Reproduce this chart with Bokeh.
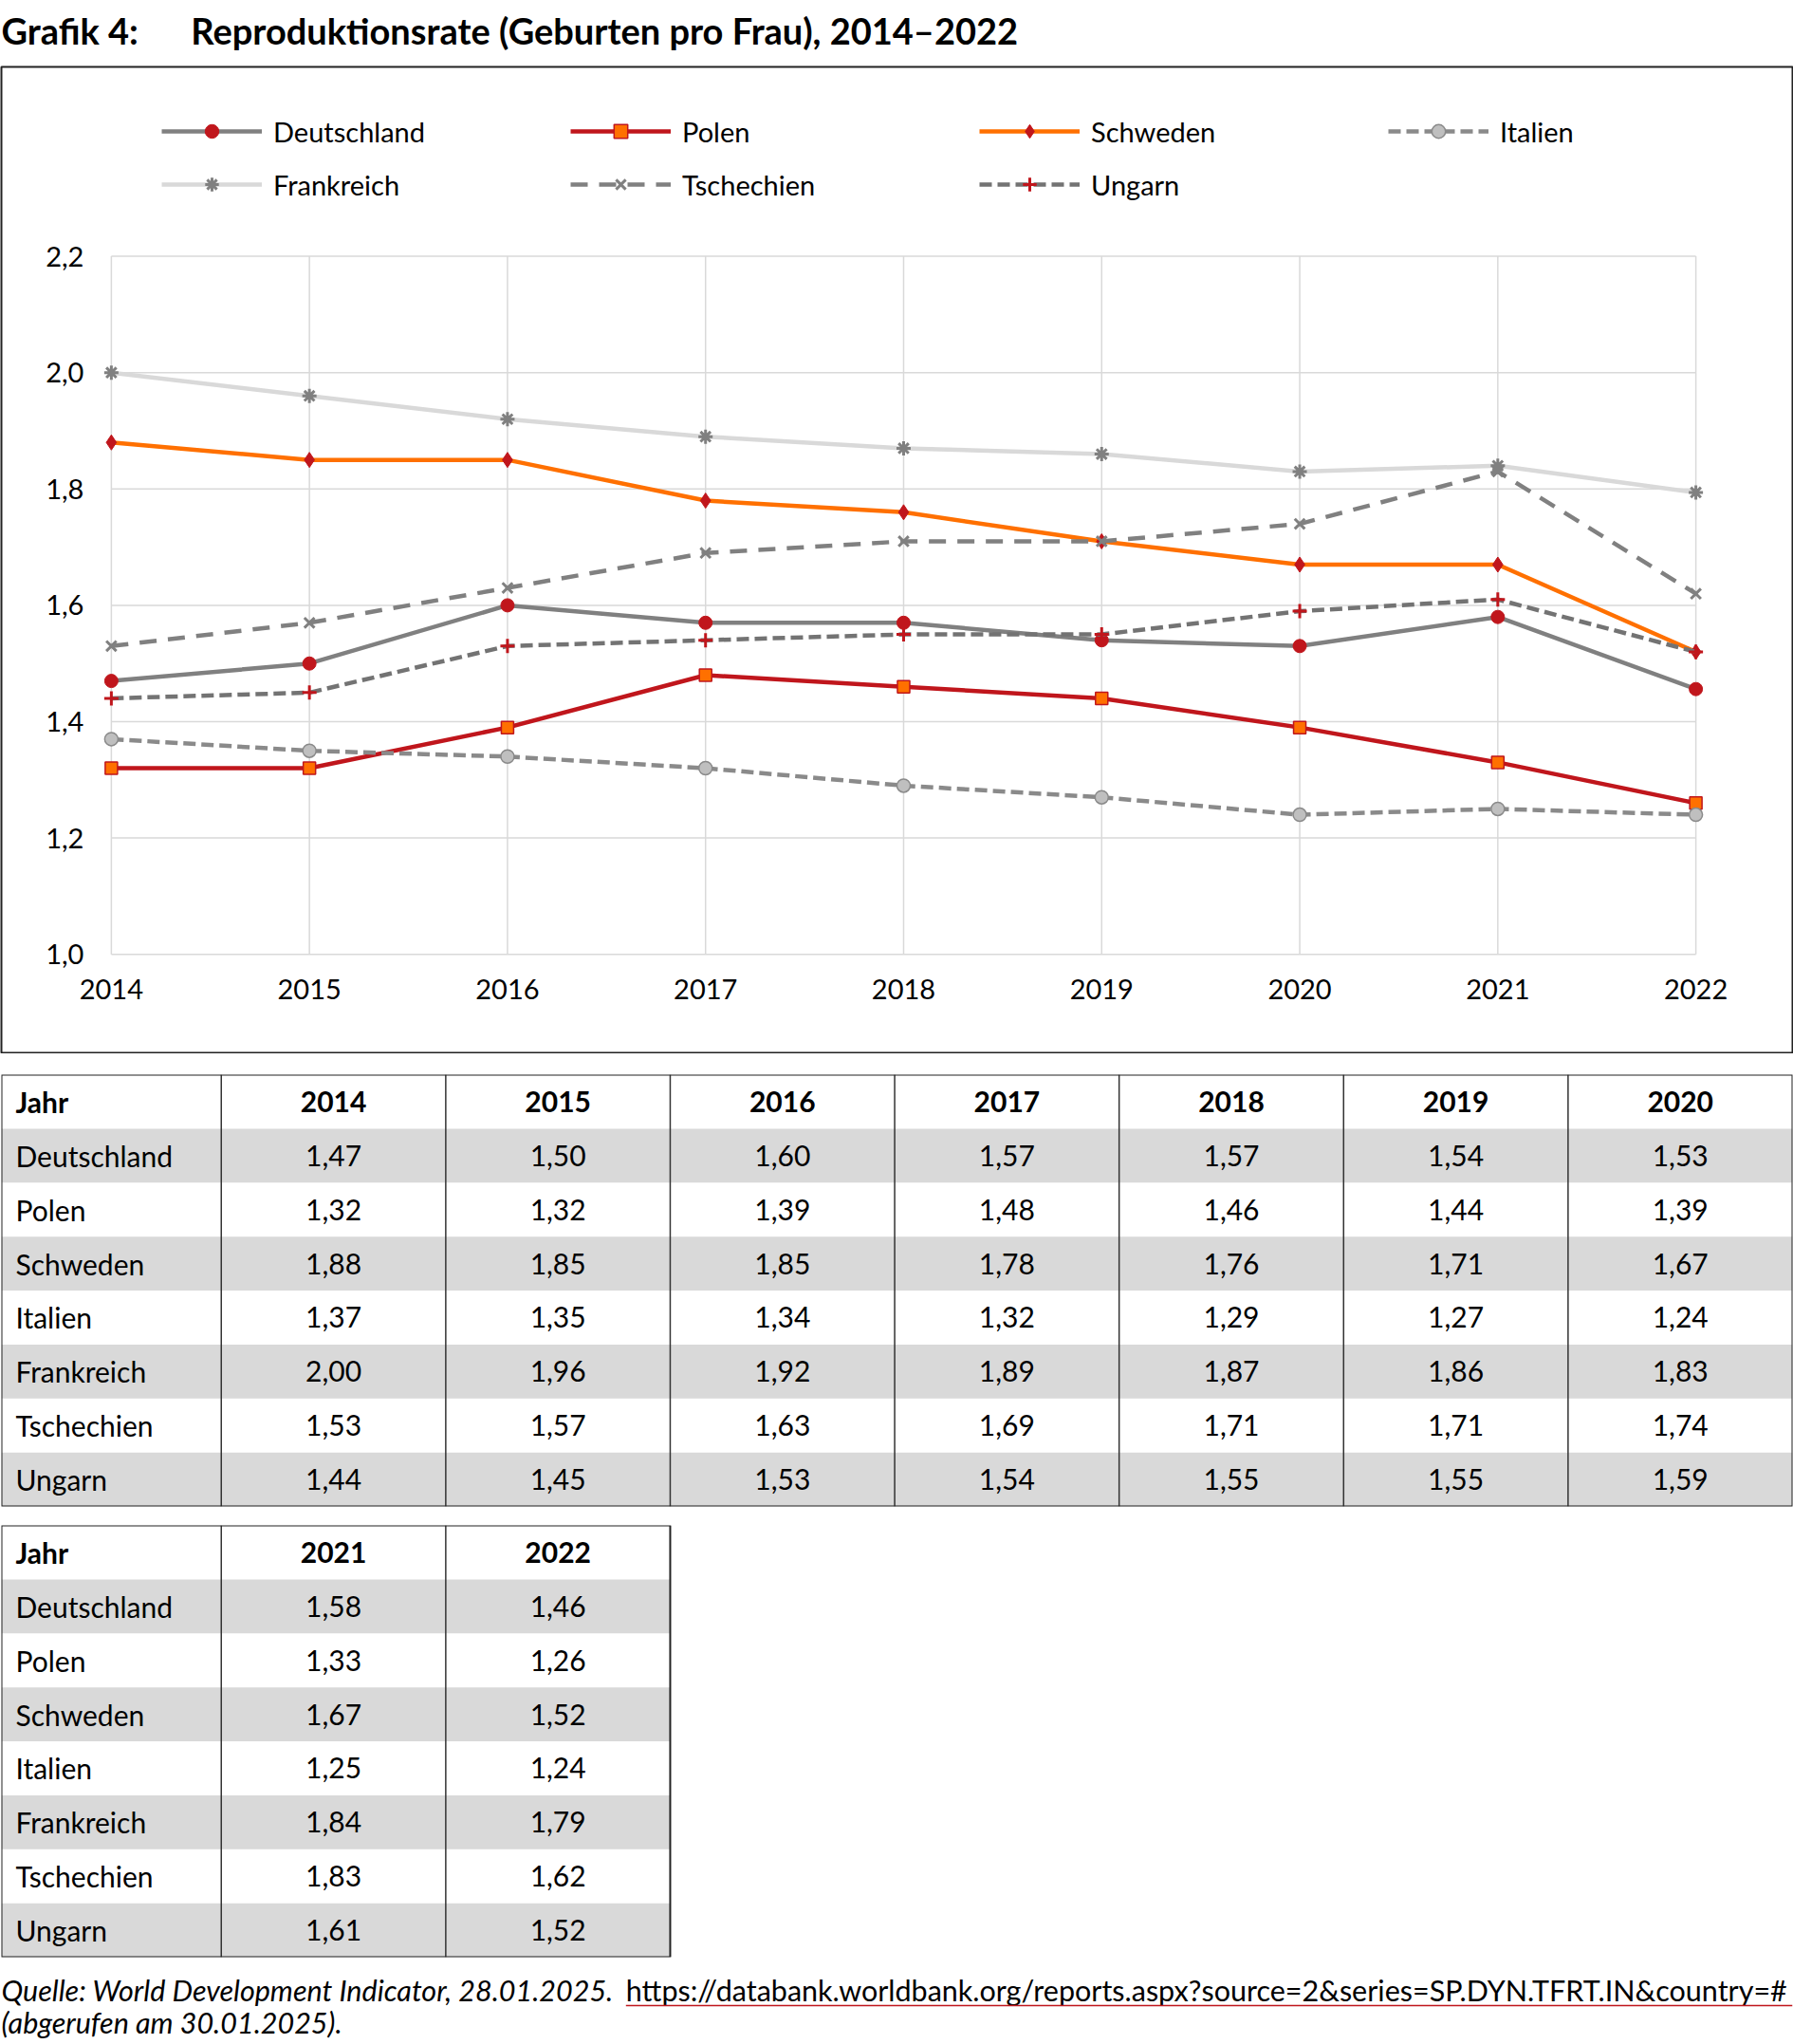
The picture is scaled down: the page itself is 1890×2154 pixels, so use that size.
from bokeh.plotting import figure
from bokeh.models import (Range1d, LinearAxis, FixedTicker, CustomJSTickFormatter,
                          Legend, LegendItem, ColumnDataSource)
from bokeh.layouts import column
from bokeh.core.properties import value
from bokeh.embed import file_html
from bokeh.resources import INLINE

# ---------------- data ----------------
YEARS = [2014, 2015, 2016, 2017, 2018, 2019, 2020, 2021, 2022]
COUNTRIES = ["Deutschland", "Polen", "Schweden", "Italien", "Frankreich", "Tschechien", "Ungarn"]
DEUTSCHLAND = [1.47, 1.50, 1.60, 1.57, 1.57, 1.54, 1.53, 1.58, 1.456]
POLEN = [1.32, 1.32, 1.39, 1.48, 1.46, 1.44, 1.39, 1.33, 1.26]
SCHWEDEN = [1.88, 1.85, 1.85, 1.78, 1.76, 1.71, 1.67, 1.67, 1.52]
ITALIEN = [1.37, 1.35, 1.34, 1.32, 1.29, 1.27, 1.24, 1.25, 1.24]
FRANKREICH = [2.00, 1.96, 1.92, 1.89, 1.87, 1.86, 1.83, 1.84, 1.794]
TSCHECHIEN = [1.53, 1.57, 1.63, 1.69, 1.71, 1.71, 1.74, 1.83, 1.62]
UNGARN = [1.44, 1.45, 1.53, 1.54, 1.55, 1.55, 1.59, 1.61, 1.52]
SERIES = [DEUTSCHLAND, POLEN, SCHWEDEN, ITALIEN, FRANKREICH, TSCHECHIEN, UNGARN]
Y_TICKS = [1.0, 1.2, 1.4, 1.6, 1.8, 2.0, 2.2]
TABLE1_YEARS = YEARS[:7]
TABLE2_YEARS = YEARS[7:]
TABLE_HEADER = "Jahr"
TITLE_NUM = "Grafik 4:"
TITLE_TEXT = "Reproduktionsrate (Geburten pro Frau), 2014–2022"
SOURCE_TEXT = "Quelle: World Development Indicator, 28.01.2025."
SOURCE_URL = "https://databank.worldbank.org/reports.aspx?source=2&series=SP.DYN.TFRT.IN&country=#"
SOURCE_DATE = "(abgerufen am 30.01.2025)."

# ---------------- styles ----------------
FONT = value("Lato")
REF_W = 1890
W = 1890
AVAIL_H = 2154

RED = "#C0161C"
ORANGE = "#FF7000"
GREY = "#808080"
LIGHT = "#D9D9D9"
BORDER = "#222222"
STYLES = {
    "Deutschland": dict(color=GREY, dash="solid",
                        markers=[dict(marker="circle", size=14, fill_color=RED, line_color=RED, line_width=1)]),
    "Polen": dict(color=RED, dash="solid",
                  markers=[dict(marker="square", size=13, fill_color=ORANGE, line_color=RED, line_width=1.5)]),
    "Schweden": dict(color=ORANGE, dash="solid",
                     markers=[dict(marker="diamond", size=16, fill_color=RED, line_color=RED, line_width=1)]),
    "Italien": dict(color="#8A8A8A", dash="13 6",
                    markers=[dict(marker="circle", size=14, fill_color="#BFBFBF", line_color="#8A8A8A", line_width=1.5)]),
    "Frankreich": dict(color=LIGHT, dash="solid",
                       markers=[dict(marker="asterisk", size=15, line_color=GREY, line_width=3)]),
    "Tschechien": dict(color=GREY, dash="18 12",
                       markers=[dict(marker="x", size=15, line_color=GREY, line_width=3)]),
    "Ungarn": dict(color="#737373", dash="13 6",
                   markers=[dict(marker="cross", size=15, line_color=RED, line_width=3)]),
}


def canvas_fig(height, y_end, x_range=None, y_range=None, top=0, bottom=0):
    p = figure(width=W, height=height,
               x_range=x_range or Range1d(0, REF_W), y_range=y_range or Range1d(y_end, 0),
               x_axis_type=None, y_axis_type=None, toolbar_location=None, output_backend="svg",
               min_border_left=1, min_border_right=1, min_border_top=top, min_border_bottom=bottom,
               title=None)
    p.outline_line_color = None
    p.background_fill_color = "white"
    p.border_fill_color = "white"
    return p

# ---------------- title ----------------
TITLE_H = 69
tf = canvas_fig(TITLE_H, TITLE_H)
tf.text(x=[0, 200], y=[31, 31], text=[TITLE_NUM, TITLE_TEXT], text_font=FONT, text_font_style="bold",
        text_font_size="38px", text_baseline="middle", text_align="left", text_color="black")

# ---------------- chart ----------------
BOX_H = 1041
X0_PX, X1_PX = 116, 1788
Y_TOP_PX, Y_BOT_PX = 200, 937
ppx = (X1_PX - X0_PX) / (YEARS[-1] - YEARS[0])
ppy = (Y_BOT_PX - Y_TOP_PX) / (Y_TICKS[-1] - Y_TICKS[0])
chart = canvas_fig(BOX_H, None,
                   x_range=Range1d(YEARS[0] - X0_PX / ppx, YEARS[-1] + (REF_W - X1_PX) / ppx),
                   y_range=Range1d(Y_TICKS[0] - (BOX_H - Y_BOT_PX) / ppy, Y_TICKS[-1] + Y_TOP_PX / ppy),
                   top=1, bottom=1)
chart.outline_line_color = BORDER
chart.outline_line_width = 2

# grid
chart.segment(x0=YEARS, y0=[Y_TICKS[0]] * len(YEARS), x1=YEARS, y1=[Y_TICKS[-1]] * len(YEARS),
              line_color=LIGHT, line_width=1.5)
chart.segment(x0=[YEARS[0]] * len(Y_TICKS), y0=Y_TICKS, x1=[YEARS[-1]] * len(Y_TICKS), y1=Y_TICKS,
              line_color=LIGHT, line_width=1.5)

yax = LinearAxis(fixed_location=YEARS[0], ticker=FixedTicker(ticks=Y_TICKS),
                 formatter=CustomJSTickFormatter(code="return tick.toFixed(1).replace('.', ',');"))
xax = LinearAxis(fixed_location=Y_TICKS[0], ticker=FixedTicker(ticks=YEARS),
                 formatter=CustomJSTickFormatter(code="return tick.toFixed(0);"))
for ax in (yax, xax):
    ax.axis_line_color = None
    ax.major_tick_line_color = None
    ax.minor_tick_line_color = None
    ax.major_label_text_font = "Lato"
    ax.major_label_text_font_size = "29px"
    ax.major_label_text_color = "black"
yax.major_label_standoff = 23
xax.major_label_standoff = 20
chart.add_layout(yax, "left")
chart.add_layout(xax, "below")

items = []
for name, vals in zip(COUNTRIES, SERIES):
    st = STYLES[name]
    src = ColumnDataSource(dict(x=YEARS, y=vals))
    rs = [chart.line("x", "y", source=src, line_color=st["color"], line_width=4.5, line_dash=st["dash"])]
    for m in st["markers"]:
        rs.append(chart.scatter("x", "y", source=src, **m))
    items.append(LegendItem(label=name, renderers=rs))

frame_h = BOX_H - 2
GLYPH_H = 36
LEG_SP = 56 - GLYPH_H
leg_h = GLYPH_H + LEG_SP + GLYPH_H
legend = Legend(items=items, orientation="horizontal", ncols=4,
                location=(169, frame_h - (68 - GLYPH_H // 2) - leg_h),
                glyph_width=106, glyph_height=GLYPH_H, label_height=GLYPH_H,
                label_width=431 - 106 - 12 - LEG_SP,
                label_standoff=12, spacing=LEG_SP, padding=0, margin=0,
                border_line_color=None, background_fill_alpha=0,
                label_text_font="Lato", label_text_font_size="29px", label_text_color="black",
                label_text_baseline="middle")
chart.add_layout(legend)

# ---------------- tables ----------------
ROW_H = 56.9
FIRST_W = 232
COL_W = (REF_W - FIRST_W) / 7
TFONT = "30px"
TEXT_X = 15


def fmt(v):
    return f"{v:.2f}".replace(".", ",")


def make_table(years, gap):
    nrows = len(COUNTRIES) + 1
    edges = [0, FIRST_W] + [FIRST_W + COL_W * (k + 1) for k in range(len(years))]
    fw = edges[-1]
    fh = round(ROW_H * nrows)
    height = gap + fh + 1
    p = canvas_fig(height, None, y_range=Range1d(nrows, 0), top=gap, bottom=1)
    shaded = [i + 1 for i in range(len(COUNTRIES)) if i % 2 == 0]
    p.quad(left=[0] * len(shaded), right=[fw] * len(shaded), top=shaded, bottom=[r + 1 for r in shaded],
           fill_color=LIGHT, line_color=None)
    inner = edges[1:-1]
    p.segment(x0=inner, y0=[0] * len(inner), x1=inner, y1=[nrows] * len(inner), line_color="#333333", line_width=1.5)
    p.quad(left=[0], right=[fw], top=[0], bottom=[nrows], fill_color=None, line_color=BORDER, line_width=2)
    # header
    p.text(x=[TEXT_X], y=[0.5], text=[TABLE_HEADER], text_font=FONT, text_font_style="bold", text_font_size=TFONT,
           text_baseline="middle", text_align="left", text_color="black")
    centers = [(edges[k + 1] + edges[k + 2]) / 2 for k in range(len(years))]
    p.text(x=centers, y=[0.5] * len(years), text=[str(y) for y in years], text_font=FONT, text_font_style="bold",
           text_font_size=TFONT, text_baseline="middle", text_align="center", text_color="black")
    # rows
    p.text(x=[TEXT_X] * len(COUNTRIES), y=[i + 1.5 for i in range(len(COUNTRIES))], text=COUNTRIES, text_font=FONT,
           text_font_size=TFONT, text_baseline="middle", text_align="left", text_color="black")
    xs, ys, ts = [], [], []
    for i, vals in enumerate(SERIES):
        for k, yr in enumerate(years):
            xs.append(centers[k])
            ys.append(i + 1.5)
            ts.append(fmt(vals[YEARS.index(yr)]))
    p.text(x=xs, y=ys, text=ts, text_font=FONT, text_font_size=TFONT, text_baseline="middle",
           text_align="center", text_color="black")
    return p, height


t1, h1 = make_table(TABLE1_YEARS, 22)
t2, h2 = make_table(TABLE2_YEARS, 19)

# ---------------- footer ----------------
foot_h = AVAIL_H - TITLE_H - BOX_H - h1 - h2
top_ref = TITLE_H + BOX_H + h1 + h2
ff = canvas_fig(foot_h, foot_h)
ff.text(x=[0, 0], y=[2096 - top_ref, 2130 - top_ref], text=[SOURCE_TEXT, SOURCE_DATE], text_font=FONT,
        text_font_style="italic", text_font_size="30.5px", text_baseline="middle", text_align="left",
        text_color="black")
ff.text(x=[659], y=[2096 - top_ref], text=[SOURCE_URL], text_font=FONT, text_font_size="30.5px",
        text_baseline="middle", text_align="left", text_color="black")
ff.segment(x0=[659], y0=[2113 - top_ref], x1=[REF_W], y1=[2113 - top_ref], line_color=RED, line_width=1.5)

layout = column(tf, chart, t1, t2, ff, spacing=0)
open("out.html", "w").write(file_html(layout, INLINE))
